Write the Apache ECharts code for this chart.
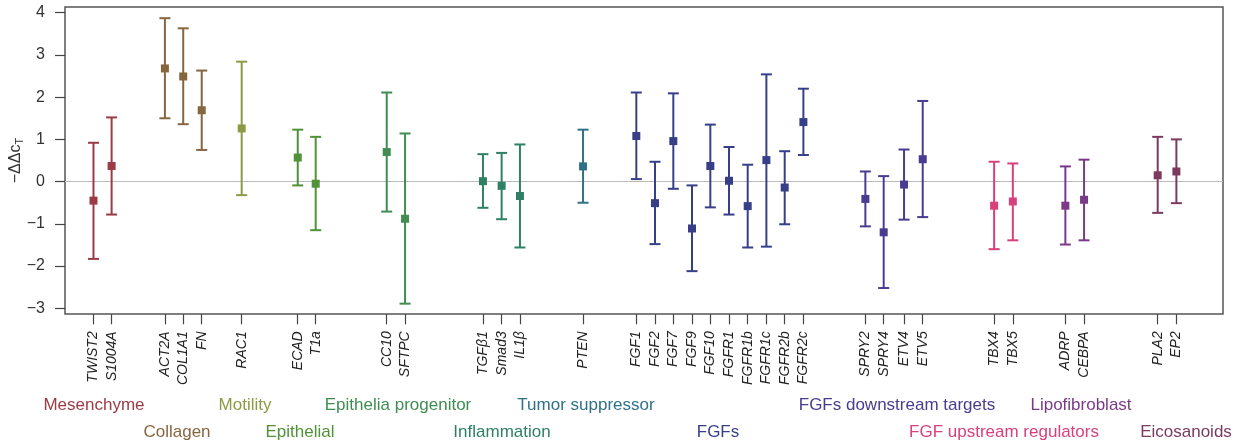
<!DOCTYPE html>
<html>
<head>
<meta charset="utf-8">
<script src="https://cdn.jsdelivr.net/npm/echarts@6/dist/echarts.min.js"></script>
<style>
  html, body { margin: 0; padding: 0; background: #fff; }
  #chart { width: 1244px; height: 444px; }
</style>
</head>
<body>
<div id="chart"></div>
<script>
// genes on the x axis, in plot order
var genes = ['TWIST2', 'S1004A', 'ACT2A', 'COL1A1', 'FN', 'RAC1', 'ECAD', 'T1a', 'CC10', 'SFTPC',
  'TGFβ1', 'Smad3', 'IL1β', 'PTEN', 'FGF1', 'FGF2', 'FGF7', 'FGF9', 'FGF10', 'FGFR1', 'FGFR1b',
  'FGFR1c', 'FGFR2b', 'FGFR2c', 'SPRY2', 'SPRY4', 'ETV4', 'ETV5', 'TBX4', 'TBX5', 'ADRP', 'CEBPA',
  'PLA2', 'EP2'];
// slot of each gene along the axis (groups are separated by gaps)
var slot = [0, 0.98, 3.86, 4.85, 5.85, 8.01, 11.04, 12.01, 15.85, 16.84,
  21.05, 22.06, 23.05, 26.46, 29.34, 30.35, 31.34, 32.35, 33.34, 34.35, 35.36,
  36.37, 37.36, 38.37, 41.72, 42.71, 43.81, 44.82, 48.68, 49.69, 52.53, 53.54,
  57.52, 58.53];
var meanVal = [-0.45, 0.37, 2.68, 2.49, 1.69, 1.26, 0.57, -0.05, 0.70, -0.88,
  0.01, -0.10, -0.34, 0.36, 1.08, -0.51, 0.96, -1.11, 0.37, 0.02, -0.58,
  0.51, -0.14, 1.41, -0.41, -1.20, -0.07, 0.53, -0.57, -0.47, -0.57, -0.43,
  0.15, 0.24];
var lowVal = [-1.83, -0.78, 1.50, 1.36, 0.75, -0.32, -0.09, -1.15, -0.71, -2.89,
  -0.62, -0.89, -1.56, -0.50, 0.06, -1.48, -0.17, -2.12, -0.61, -0.78, -1.56,
  -1.54, -1.01, 0.63, -1.06, -2.52, -0.90, -0.84, -1.60, -1.39, -1.49, -1.39,
  -0.74, -0.51];
var highVal = [0.92, 1.52, 3.87, 3.63, 2.63, 2.84, 1.23, 1.06, 2.11, 1.14,
  0.65, 0.68, 0.88, 1.23, 2.11, 0.47, 2.09, -0.09, 1.35, 0.82, 0.40,
  2.54, 0.72, 2.20, 0.24, 0.13, 0.76, 1.91, 0.47, 0.43, 0.36, 0.52,
  1.06, 1.00];
var geneGroup = [0, 0, 1, 1, 1, 2, 3, 3, 4, 4,
  5, 5, 5, 6, 7, 7, 7, 7, 7, 7, 7,
  7, 7, 7, 8, 8, 8, 8, 9, 9, 10, 10,
  11, 11];
var groupNames = ['Mesenchyme', 'Collagen', 'Motility', 'Epithelial', 'Epithelia progenitor',
  'Inflammation', 'Tumor suppressor', 'FGFs', 'FGFs downstream targets',
  'FGF upstream regulators', 'Lipofibroblast', 'Eicosanoids'];
var groupColors = ['#9a3b45', '#86663f', '#8c9a45', '#4f9238', '#3f8d52',
  '#2f8066', '#2f7188', '#363f88', '#4a3b90', '#d83f7d', '#7b3a88', '#7c3a5e'];

// where the group names sit under the axis: [centre x, row]
var groupLabelPos = [[94, 0], [177, 1], [245, 0], [300, 1], [398, 0], [502, 1],
  [586, 0], [718, 1], [897, 0], [1004, 1], [1081, 0], [1186, 1]];

var mychart = echarts.init(document.getElementById('chart'));
var FONT = 'Liberation Sans, Arial, sans-serif';

function geneName(v) {
  for (var i = 0; i < slot.length; i++) {
    if (Math.abs(slot[i] - v) < 1e-6) return genes[i];
  }
  return '';
}

function renderBar(params, api) {
  var x = api.value(0);
  var top = api.coord([x, api.value(3)]);
  var bot = api.coord([x, api.value(2)]);
  var mid = api.coord([x, api.value(1)]);
  var c = groupColors[api.value(4)];
  var hw = 5.5, s = 4;
  return {
    type: 'group',
    children: [
      { type: 'line', shape: { x1: top[0], y1: top[1], x2: bot[0], y2: bot[1] }, style: { stroke: c, lineWidth: 2 } },
      { type: 'line', shape: { x1: top[0] - hw, y1: top[1], x2: top[0] + hw, y2: top[1] }, style: { stroke: c, lineWidth: 2 } },
      { type: 'line', shape: { x1: bot[0] - hw, y1: bot[1], x2: bot[0] + hw, y2: bot[1] }, style: { stroke: c, lineWidth: 2 } },
      { type: 'rect', shape: { x: mid[0] - s, y: mid[1] - s, width: 2 * s, height: 2 * s }, style: { fill: c } }
    ]
  };
}

var barData = genes.map(function (g, i) {
  return [slot[i], meanVal[i], lowVal[i], highVal[i], geneGroup[i]];
});

var labels = groupNames.map(function (name, i) {
  return {
    type: 'text',
    x: groupLabelPos[i][0],
    y: groupLabelPos[i][1] === 0 ? 405 : 432,
    silent: true,
    style: {
      text: name,
      fill: groupColors[i],
      font: '17px ' + FONT,
      align: 'center',
      verticalAlign: 'middle',
      textAlign: 'center',
      textVerticalAlign: 'middle'
    }
  };
});

var option = {
  backgroundColor: '#fff',
  animation: false,
  grid: [
    { left: 65, right: 21, top: 12.7, bottom: 135.7, outerBoundsMode: 'none', containLabel: false },
    // outer box
    { left: 65, right: 21, top: 7, bottom: 130, outerBoundsMode: 'none', containLabel: false,
      show: true, borderColor: '#555', borderWidth: 1.5, backgroundColor: 'transparent' }
  ],
  xAxis: [
    {
      type: 'value',
      gridIndex: 0,
      min: -1.54,
      max: 61.05,
      offset: 6,
      axisLine: { show: false, onZero: false },
      splitLine: { show: false },
      axisTick: { show: true, customValues: slot, length: 10, lineStyle: { color: '#444', width: 1.2 } },
      axisLabel: {
        customValues: slot,
        rotate: 90,
        margin: 17,
        formatter: geneName,
        fontStyle: 'italic',
        fontSize: 14,
        fontFamily: FONT,
        color: '#222'
      }
    },
    { type: 'value', gridIndex: 1, show: false, min: 0, max: 1 }
  ],
  yAxis: [
    {
      type: 'value',
      gridIndex: 0,
      min: -3,
      max: 4,
      interval: 1,
      axisLine: { show: false, onZero: false },
      splitLine: { show: false },
      axisTick: { show: true, length: 10, lineStyle: { color: '#444', width: 1.2 } },
      axisLabel: {
        margin: 20,
        fontSize: 16,
        fontFamily: FONT,
        color: '#333',
        formatter: function (v) { return v < 0 ? '\u2212' + (-v) : String(v); }
      },
      name: '{a|\u2212ΔΔc}{b|T}',
      nameLocation: 'middle',
      nameRotate: 90,
      nameGap: 40,
      nameMoveOverlap: false,
      nameTextStyle: {
        rich: {
          a: { fontSize: 16, fontFamily: FONT, color: '#333' },
          b: { fontSize: 11, fontFamily: FONT, color: '#333', padding: [7, 0, 0, 0] }
        }
      }
    },
    { type: 'value', gridIndex: 1, show: false, min: 0, max: 1 }
  ],
  series: [
    {
      type: 'custom',
      xAxisIndex: 0,
      yAxisIndex: 0,
      renderItem: renderBar,
      encode: { x: 0, y: [1, 2, 3] },
      data: barData,
      clip: false,
      z: 3,
      markLine: {
        silent: true,
        symbol: 'none',
        label: { show: false },
        lineStyle: { color: '#bbb', width: 1.2, type: 'solid' },
        data: [{ yAxis: 0 }],
        z: 1
      }
    }
  ],
  graphic: labels
};
mychart.setOption(option);
</script>
</body>
</html>
